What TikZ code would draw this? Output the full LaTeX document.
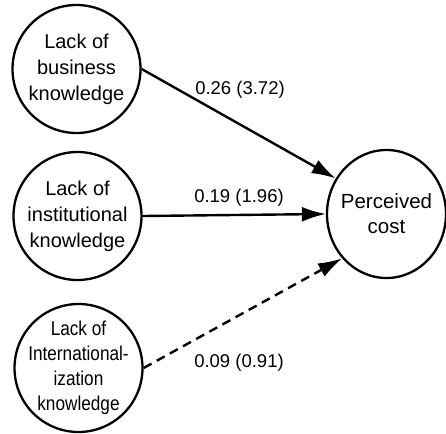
\documentclass[tikz,border=0pt]{standalone}
\usepackage{fontspec}
\setmainfont{Liberation Sans}
\newfontfamily\condfont[FakeStretch=0.86]{Liberation Sans}
\usetikzlibrary{arrows.meta,shapes.geometric}
\begin{document}
\begin{tikzpicture}[x=1pt,y=-1pt,
  latent/.style={draw,circle,line width=2.3pt,minimum size=128pt,inner sep=-6pt,align=center,
     font=\fontsize{20}{26}\selectfont},
  outcome/.style={draw,ellipse,line width=2.3pt,minimum width=119pt,minimum height=128pt,inner xsep=-6pt,inner ysep=0pt,align=center,
     font=\fontsize{20.5}{25}\selectfont},
  path/.style={line width=2.4pt,-{Latex[length=24pt,width=15pt]}},
  weak/.style={path,dash pattern=on 9pt off 6pt},
  coef/.style={font=\fontsize{18.5}{22}\selectfont,inner sep=0pt}]
\useasboundingbox (0,0) rectangle (446,433);
\node[latent] (a) at (76.5,69) {Lack of\\business\\knowledge};
\node[latent] (b) at (77.5,216) {Lack of\\institutional\\knowledge};
\node[latent,font=\condfont\fontsize{20}{25}\selectfont] (c) at (78.5,368) {Lack of\\International-\\ization\\knowledge};
\node[outcome] (p) at (386.5,214) {Perceived\\cost};
\draw[path] (a.east) -- (p.145);
\draw[path] (b.east) -- (p.west);
\draw[weak] (c.east) -- (p.225);
\node[coef] (l1) at (240,90) {0.26 (3.72)};
\node[coef] (l2) at (239,197.5) {0.19 (1.96)};
\node[coef] (l3) at (239,363) {0.09 (0.91)};
\end{tikzpicture}
\end{document}
